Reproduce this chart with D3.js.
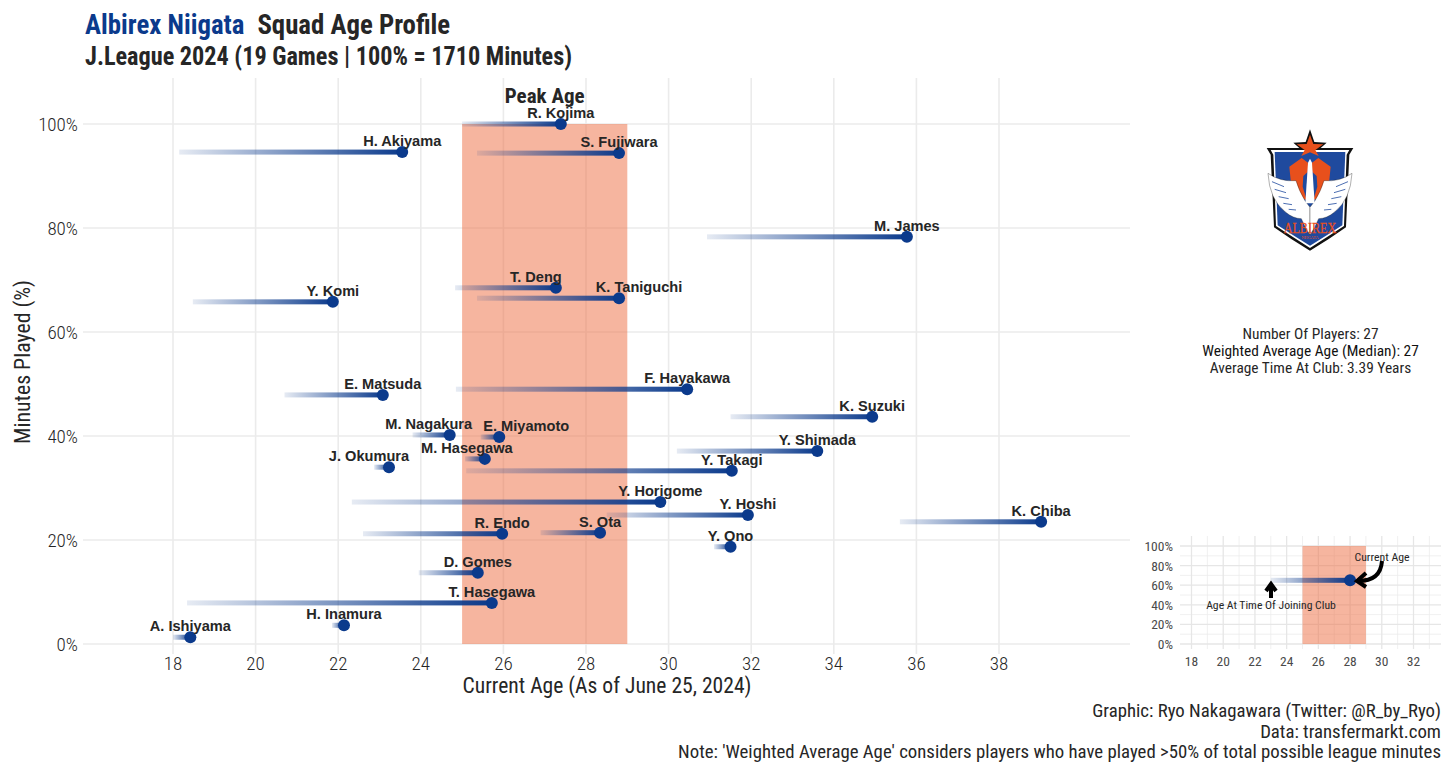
<!DOCTYPE html>
<html>
<head>
<meta charset="utf-8">
<script src="https://cdn.jsdelivr.net/npm/d3@7"></script>
<style>
  html, body { margin: 0; padding: 0; background: #fff; }
  text { font-family: Roboto, sans-serif; font-stretch: condensed; }
  .lab { font-family: "Liberation Sans", sans-serif; font-weight: 700; font-stretch: normal; }
</style>
</head>
<body>
<div id="chart"></div>
<script>
const players = ['R. Kojima','H. Akiyama','S. Fujiwara','M. James','T. Deng','K. Taniguchi','Y. Komi','E. Matsuda','F. Hayakawa','K. Suzuki','M. Nagakura','E. Miyamoto','Y. Shimada','M. Hasegawa','J. Okumura','Y. Takagi','Y. Horigome','Y. Hoshi','K. Chiba','R. Endo','S. Ota','Y. Ono','D. Gomes','T. Hasegawa','H. Inamura','A. Ishiyama'];
const joinAge = [25, 18.15, 25.36, 30.93, 24.83, 25.36, 18.48, 20.7, 24.85, 31.5, 23.8, 25.45, 30.2, 25.07, 22.87, 25.1, 22.33, 28.5, 35.6, 22.6, 26.9, 31.1, 23.95, 18.34, 21.85, 18];
const currentAge = [27.39, 23.55, 28.8, 35.77, 27.27, 28.8, 21.87, 23.08, 30.45, 34.93, 24.7, 25.9, 33.6, 25.55, 23.23, 31.53, 29.8, 31.92, 39.02, 25.97, 28.34, 31.5, 25.38, 25.72, 22.14, 18.42];
const minutesPct = [100, 94.6, 94.4, 78.3, 68.5, 66.5, 65.8, 47.9, 49, 43.7, 40.2, 39.8, 37.1, 35.6, 34, 33.3, 27.3, 24.8, 23.5, 21.2, 21.4, 18.7, 13.7, 7.9, 3.6, 1.3];
const ageTicks = [18, 20, 22, 24, 26, 28, 30, 32, 34, 36, 38];
const pctTicks = [0, 20, 40, 60, 80, 100];
const peakAge = [25, 29];
const insetTicks = [18, 20, 22, 24, 26, 28, 30, 32];
const insetMinor = [19, 21, 23, 25, 27, 29, 31, 33];
const insetPctMinor = [10, 30, 50, 70, 90];
const insetPlayer = { join: 23, current: 28, pct: 65 };
const clubStats = ['Number Of Players: 27', 'Weighted Average Age (Median): 27', 'Average Time At Club: 3.39 Years'];
const notes = ['Graphic: Ryo Nakagawara (Twitter: @R_by_Ryo)', 'Data: transfermarkt.com', "Note: 'Weighted Average Age' considers players who have played >50% of total possible league minutes"];

// labels ggrepel pushed off their default spot
const nudges = { 'T. Deng': -20, 'K. Taniguchi': 20, 'M. Nagakura': -21, 'E. Miyamoto': 27, 'M. Hasegawa': -18, 'J. Okumura': -20 };

const navy = '#0b3a8c';
const ink = '#262626';
const grid = '#ebebeb';

const svg = d3.select('#chart').append('svg')
  .attr('width', 1456)
  .attr('height', 777)
  .style('display', 'block');

const defs = svg.append('defs');
const grad = defs.append('linearGradient').attr('id', 'tail');
grad.append('stop').attr('offset', '0%').attr('stop-color', navy).attr('stop-opacity', 0.1);
grad.append('stop').attr('offset', '100%').attr('stop-color', navy).attr('stop-opacity', 1);

// main panel
const x = d3.scaleLinear().domain([18, 38]).range([173, 999]);
const y = d3.scaleLinear().domain([0, 100]).range([644, 124]);

const gridG = svg.append('g');
gridG.selectAll('.vg').data(ageTicks).enter().append('line')
  .attr('x1', (d) => x(d)).attr('x2', (d) => x(d))
  .attr('y1', 78).attr('y2', 654)
  .attr('stroke', grid).attr('stroke-width', 1.6);
gridG.selectAll('.hg').data(pctTicks).enter().append('line')
  .attr('x1', 83).attr('x2', 1130)
  .attr('y1', (d) => y(d)).attr('y2', (d) => y(d))
  .attr('stroke', grid).attr('stroke-width', 1.6);

// peak age band sits over the grid
svg.append('rect')
  .attr('x', x(peakAge[0])).attr('width', x(peakAge[1]) - x(peakAge[0]))
  .attr('y', y(100)).attr('height', y(0) - y(100))
  .attr('fill', '#ee6c3f').attr('fill-opacity', 0.5);

svg.append('text').attr('x', x(27)).attr('y', 103)
  .attr('text-anchor', 'middle').attr('font-size', 21).attr('font-weight', 700)
  .attr('fill', ink).text('Peak Age');

const rows = players.map((name, i) => ({ name, join: joinAge[i], current: currentAge[i], pct: minutesPct[i] }));

svg.selectAll('.tail').data(rows).enter().append('rect')
  .attr('x', (d) => x(d.join))
  .attr('width', (d) => x(d.current) - x(d.join))
  .attr('y', (d) => y(d.pct) - 2.5)
  .attr('height', 5)
  .attr('fill', 'url(#tail)');

svg.selectAll('.dot').data(rows).enter().append('circle')
  .attr('cx', (d) => x(d.current))
  .attr('cy', (d) => y(d.pct))
  .attr('r', 6)
  .attr('fill', navy);

svg.selectAll('.lab').data(rows).enter().append('text')
  .attr('class', 'lab')
  .attr('x', (d) => x(d.current) + (nudges[d.name] || 0))
  .attr('y', (d) => y(d.pct) - 6)
  .attr('text-anchor', 'middle')
  .attr('font-size', 14.6)
  .attr('fill', ink)
  .text((d) => d.name);

// axes
svg.selectAll('.xt').data(ageTicks).enter().append('text')
  .attr('x', (d) => x(d)).attr('y', 670)
  .attr('text-anchor', 'middle').attr('font-size', 19).attr('font-weight', 300).attr('fill', ink)
  .text((d) => d);
svg.selectAll('.yt').data(pctTicks).enter().append('text')
  .attr('x', 78).attr('y', (d) => y(d) + 7)
  .attr('text-anchor', 'end').attr('font-size', 19).attr('font-weight', 300).attr('fill', ink)
  .text((d) => d + '%');
svg.append('text').attr('x', 607).attr('y', 693)
  .attr('text-anchor', 'middle').attr('font-size', 21.6).attr('fill', ink)
  .text('Current Age (As of June 25, 2024)');
svg.append('text').attr('transform', 'translate(30,362) rotate(-90)')
  .attr('text-anchor', 'middle').attr('font-size', 21.8).attr('fill', ink)
  .text('Minutes Played (%)');

// titles
const t1 = svg.append('text').attr('x', 85).attr('y', 34).attr('font-size', 26.8).attr('font-weight', 700).attr('fill', ink);
t1.append('tspan').attr('fill', navy).text('Albirex Niigata');
t1.append('tspan').attr('dx', 13).text('Squad Age Profile');
svg.append('text').attr('x', 85).attr('y', 65).attr('font-size', 25.5).attr('font-weight', 700).attr('fill', ink)
  .attr('textLength', 487).attr('lengthAdjust', 'spacingAndGlyphs')
  .text('J.League 2024 (19 Games | 100% = 1710 Minutes)');

// club summary
svg.selectAll('.stat').data(clubStats).enter().append('text')
  .attr('x', 1310.5).attr('y', (d, i) => 339 + i * 17)
  .attr('text-anchor', 'middle').attr('font-size', 15.4).attr('fill', (d, i) => i === 1 ? '#111' : ink)
  .text((d) => d);

// footer
svg.selectAll('.note').data(notes).enter().append('text')
  .attr('x', 1441).attr('y', (d, i) => 717 + i * 20.5)
  .attr('text-anchor', 'end').attr('font-size', 18.8).attr('fill', ink)
  .text((d) => d);

// inset legend
const ix = d3.scaleLinear().domain([18, 32]).range([1191.5, 1413.5]);
const iy = d3.scaleLinear().domain([0, 100]).range([644, 546]);
const inset = svg.append('g');
inset.selectAll('.ivm').data(insetMinor).enter().append('line')
  .attr('x1', (d) => ix(d)).attr('x2', (d) => ix(d)).attr('y1', 536).attr('y2', 649)
  .attr('stroke', '#ececec').attr('stroke-width', 0.8);
inset.selectAll('.ihm').data(insetPctMinor).enter().append('line')
  .attr('x1', 1180).attr('x2', 1441).attr('y1', (d) => iy(d)).attr('y2', (d) => iy(d))
  .attr('stroke', '#ececec').attr('stroke-width', 0.8);
inset.selectAll('.iv').data(insetTicks).enter().append('line')
  .attr('x1', (d) => ix(d)).attr('x2', (d) => ix(d)).attr('y1', 536).attr('y2', 649)
  .attr('stroke', '#e6e6e6').attr('stroke-width', 1.3);
inset.selectAll('.ih').data(pctTicks).enter().append('line')
  .attr('x1', 1180).attr('x2', 1441).attr('y1', (d) => iy(d)).attr('y2', (d) => iy(d))
  .attr('stroke', '#e6e6e6').attr('stroke-width', 1.3);
inset.append('rect')
  .attr('x', ix(peakAge[0])).attr('width', ix(peakAge[1]) - ix(peakAge[0]))
  .attr('y', iy(100)).attr('height', iy(0) - iy(100))
  .attr('fill', '#ee6c3f').attr('fill-opacity', 0.5);
inset.append('rect')
  .attr('x', ix(insetPlayer.join)).attr('width', ix(insetPlayer.current) - ix(insetPlayer.join))
  .attr('y', iy(insetPlayer.pct) - 2.5).attr('height', 5)
  .attr('fill', 'url(#tail)');
inset.append('circle').attr('cx', ix(insetPlayer.current)).attr('cy', iy(insetPlayer.pct)).attr('r', 6).attr('fill', navy);
inset.selectAll('.ixt').data(insetTicks).enter().append('text')
  .attr('x', (d) => ix(d)).attr('y', 666)
  .attr('text-anchor', 'middle').attr('font-size', 13.5).attr('fill', '#4a4a4a').text((d) => d);
inset.selectAll('.iyt').data(pctTicks).enter().append('text')
  .attr('x', 1173).attr('y', (d) => iy(d) + 5)
  .attr('text-anchor', 'end').attr('font-size', 13.5).attr('fill', '#4a4a4a').text((d) => d + '%');
inset.append('text').attr('x', 1382).attr('y', 561).attr('text-anchor', 'middle')
  .attr('font-size', 11.8).attr('fill', ink).text('Current Age');
inset.append('text').attr('x', 1271).attr('y', 609).attr('text-anchor', 'middle')
  .attr('font-size', 11.7).attr('fill', ink).text('Age At Time Of Joining Club');
// annotation arrows
inset.append('path').attr('d', 'M1382,561 C1381,574 1374,581 1358,581')
  .attr('fill', 'none').attr('stroke', '#000').attr('stroke-width', 4);
inset.append('path').attr('d', 'M1366,573 L1357,581 L1366,587')
  .attr('fill', 'none').attr('stroke', '#000').attr('stroke-width', 4);
inset.append('path').attr('d', 'M1271,598 L1271,584 M1266,591 L1271,584 L1276,591')
  .attr('fill', 'none').attr('stroke', '#000').attr('stroke-width', 4);

// club crest, drawn in the 420 box of a 3x crop, right half is the left mirrored
const crest = svg.append('g').attr('transform', 'translate(1240,120) scale(0.3333)');
crest.append('path').attr('d', 'M80,84 L178,84 L160,68 L197,66 L210,28 L223,66 L260,68 L242,84 L340,84 L328,104 L318,322 Q265,360 210,392 Q155,360 102,322 L92,104 Z')
  .attr('fill', '#111');
crest.append('path').attr('d', 'M92,90 L328,90 L320,104 L312,318 Q260,352 210,384 Q160,352 108,318 L100,104 Z')
  .attr('fill', '#fff');
crest.append('path').attr('d', 'M104,96 L316,96 L307,316 Q258,348 210,377 Q162,348 113,316 Z')
  .attr('fill', '#1f4a9e');
crest.append('path').attr('d', 'M210,44 L220,72 L250,73 L226,90 L236,108 L210,97 L184,108 L194,90 L170,73 L200,72 Z')
  .attr('fill', '#e8501c');
const half = (g) => {
  g.append('path').attr('d', 'M148,140 L185,114 L206,130 L203,156 L190,168 L188,200 L200,240 L176,232 L152,180 Z')
    .attr('fill', '#e8501c');
  g.append('path').attr('d', 'M84,160 Q120,186 168,182 Q176,210 196,244 L210,262 L210,345 Q196,325 184,296 Q160,296 136,276 Q88,238 84,160 Z')
    .attr('fill', '#fff').attr('stroke', '#111').attr('stroke-width', 1);
  g.append('path').attr('d', 'M96,185 L132,200 M104,208 L138,218 M116,230 L146,236 M130,250 L156,254 M146,268 L168,270')
    .attr('fill', 'none').attr('stroke', '#1f4a9e').attr('stroke-width', 2.4);
};
half(crest.append('g'));
half(crest.append('g').attr('transform', 'translate(420,0) scale(-1,1)'));
crest.append('path').attr('d', 'M204,128 L210,116 L216,128 L224,250 L196,250 Z').attr('fill', '#fff');
crest.append('text').attr('x', 210).attr('y', 340).attr('text-anchor', 'middle')
  .style('font-family', '"Liberation Serif", serif').style('font-stretch', 'normal')
  .attr('font-size', 46).attr('textLength', 158).attr('lengthAdjust', 'spacingAndGlyphs')
  .attr('fill', '#e8501c').attr('stroke', '#e8501c').attr('stroke-width', 0.8).text('ALBIREX');
crest.append('text').attr('x', 210).attr('y', 358).attr('text-anchor', 'middle')
  .style('font-family', '"Liberation Serif", serif').style('font-stretch', 'normal')
  .attr('font-size', 13).attr('fill', '#e8501c').text('NIIGATA');
</script>
</body>
</html>
